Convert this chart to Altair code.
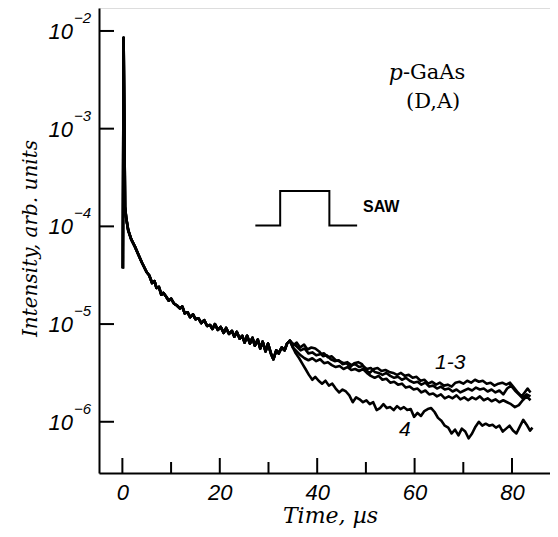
import altair as alt
import pandas as pd

# ---------------- data ----------------
# common early part (all four curves coincide), time in µs, log10(intensity)
prefix_t = [0.1, 0.25, 0.55, 0.8, 1.2, 1.8, 2.6, 3.3, 4.0, 5.0, 5.5, 6.1, 6.6, 7.0, 7.5, 8.0,
            8.4, 9.0, 9.5, 10.0, 10.6, 11.2, 11.8, 12.3, 12.8, 13.4, 13.9, 14.5, 15.0, 15.6,
            16.2, 16.8, 17.4, 18.0, 18.5, 19.0, 19.6, 20.2, 20.8, 21.3, 21.9, 22.5, 23.0, 23.5,
            24.1, 24.6, 25.1, 25.6, 26.2, 26.7, 27.2, 27.8, 28.3, 28.8, 29.4, 29.9, 30.5, 31.0,
            31.6, 32.1, 32.7, 33.3, 33.8, 34.4]
prefix_log = [-4.43, -2.07, -3.80, -3.92, -4.04, -4.13, -4.21, -4.29, -4.37, -4.47, -4.50, -4.58,
              -4.56, -4.63, -4.62, -4.70, -4.68, -4.72, -4.76, -4.74, -4.79, -4.81, -4.84, -4.82,
              -4.89, -4.88, -4.93, -4.90, -4.95, -4.94, -4.99, -4.96, -5.02, -5.01, -5.05, -5.00,
              -5.06, -5.03, -5.09, -5.04, -5.10, -5.07, -5.13, -5.08, -5.15, -5.12, -5.19, -5.12,
              -5.20, -5.14, -5.22, -5.16, -5.25, -5.18, -5.28, -5.20, -5.30, -5.36, -5.27, -5.30,
              -5.24, -5.27, -5.20, -5.17]

c1_t = [35.0, 35.8, 36.5, 37.3, 38.0, 38.8, 39.6, 40.4, 41.2, 42.0, 42.8, 43.6, 44.4, 45.2, 46.0,
        46.8, 47.6, 48.4, 49.2, 50.0, 50.8, 51.6, 52.4, 53.2, 54.0, 54.8, 55.6, 56.4, 57.2, 58.0,
        58.8, 59.6, 60.4, 61.2, 62.0, 62.8, 63.6, 64.4, 65.2, 66.0, 66.8, 67.6, 68.4, 69.2, 70.0,
        70.8, 71.6, 72.4, 73.2, 74.0, 74.8, 75.6, 76.4, 77.2, 78.0, 78.8, 79.6, 80.4, 81.2, 82.0,
        82.6, 83.2, 83.8]
c1_log = [-5.22, -5.19, -5.24, -5.21, -5.26, -5.24, -5.25, -5.28, -5.33, -5.32, -5.36, -5.38,
          -5.37, -5.41, -5.40, -5.44, -5.40, -5.39, -5.41, -5.47, -5.50, -5.46, -5.45, -5.48,
          -5.47, -5.49, -5.50, -5.52, -5.50, -5.53, -5.52, -5.55, -5.54, -5.58, -5.57, -5.61,
          -5.59, -5.62, -5.60, -5.63, -5.62, -5.64, -5.60, -5.59, -5.61, -5.58, -5.60, -5.57,
          -5.59, -5.58, -5.61, -5.60, -5.63, -5.61, -5.60, -5.62, -5.60, -5.65, -5.70, -5.74,
          -5.70, -5.66, -5.70]

c2_t = [35.0, 35.8, 36.6, 37.4, 38.2, 39.0, 39.8, 40.6, 41.4, 42.2, 43.0, 43.8, 44.6, 45.4, 46.2,
        47.0, 47.8, 48.6, 49.4, 50.2, 51.0, 51.8, 52.6, 53.4, 54.2, 55.0, 55.8, 56.6, 57.4, 58.2,
        59.0, 59.8, 60.6, 61.4, 62.2, 63.0, 63.8, 64.6, 65.4, 66.2, 67.0, 67.8, 68.6, 69.4, 70.2,
        71.0, 71.8, 72.6, 73.4, 74.2, 75.0, 75.8, 76.6, 77.4, 78.2, 79.0, 79.8, 80.6, 81.4, 82.2,
        83.0, 83.8]
c2_log = [-5.24, -5.28, -5.32, -5.35, -5.37, -5.35, -5.38, -5.36, -5.40, -5.39, -5.42, -5.44,
          -5.43, -5.46, -5.44, -5.47, -5.46, -5.48, -5.46, -5.50, -5.53, -5.55, -5.53, -5.57,
          -5.56, -5.60, -5.59, -5.62, -5.61, -5.65, -5.64, -5.67, -5.66, -5.70, -5.68, -5.72,
          -5.71, -5.74, -5.72, -5.76, -5.74, -5.76, -5.73, -5.77, -5.75, -5.78, -5.75, -5.77,
          -5.74, -5.78, -5.76, -5.79, -5.77, -5.80, -5.78, -5.80, -5.82, -5.85, -5.83, -5.78,
          -5.74, -5.78]

c3_t = [35.0, 35.8, 36.6, 37.4, 38.2, 39.0, 39.8, 40.6, 41.4, 42.2, 43.0, 43.8, 44.6, 45.4, 46.2,
        47.0, 47.8, 48.6, 49.4, 50.2, 51.0, 51.8, 52.6, 53.4, 54.2, 55.0, 55.8, 56.6, 57.4, 58.2,
        59.0, 59.8, 60.6, 61.4, 62.2, 63.0, 63.8, 64.6, 65.4, 66.2, 67.0, 67.8, 68.6, 69.4, 70.2,
        71.0, 71.8, 72.6, 73.4, 74.2, 75.0, 75.8, 76.6, 77.4, 78.2, 79.0, 79.8, 80.6, 81.4, 82.2,
        83.0, 83.8]
c3_log = [-5.20, -5.23, -5.27, -5.25, -5.30, -5.29, -5.32, -5.31, -5.30, -5.34, -5.33, -5.37,
          -5.38, -5.40, -5.39, -5.42, -5.41, -5.44, -5.43, -5.46, -5.45, -5.49, -5.50, -5.52,
          -5.50, -5.53, -5.55, -5.54, -5.57, -5.55, -5.58, -5.60, -5.59, -5.62, -5.60, -5.64,
          -5.63, -5.66, -5.64, -5.67, -5.66, -5.69, -5.67, -5.70, -5.68, -5.66, -5.68, -5.65,
          -5.67, -5.66, -5.69, -5.67, -5.70, -5.68, -5.72, -5.66, -5.63, -5.68, -5.72, -5.76,
          -5.72, -5.74]

c4_t = [35.0, 35.6, 36.3, 37.0, 37.6, 38.3, 39.0, 39.6, 40.3, 41.0, 41.7, 42.4, 43.1, 43.8, 44.5,
        45.2, 45.9, 46.6, 47.3, 48.0, 48.7, 49.4, 50.1, 50.8, 51.5, 52.2, 52.9, 53.6, 54.3, 55.0,
        55.7, 56.4, 57.1, 57.8, 58.5, 59.2, 59.9, 60.6, 61.3, 62.0, 62.7, 63.4, 64.1, 64.8, 65.5,
        66.2, 66.9, 67.6, 68.3, 69.0, 69.7, 70.4, 71.1, 71.8, 72.5, 73.2, 73.9, 74.6, 75.3, 76.0,
        76.7, 77.4, 78.1, 78.8, 79.5, 80.2, 80.9, 81.6, 82.3, 83.0, 83.7, 84.2]
c4_log = [-5.24, -5.30, -5.35, -5.41, -5.46, -5.52, -5.57, -5.54, -5.58, -5.61, -5.58, -5.63,
          -5.61, -5.66, -5.70, -5.67, -5.69, -5.73, -5.80, -5.75, -5.77, -5.80, -5.78, -5.82,
          -5.80, -5.88, -5.86, -5.82, -5.86, -5.85, -5.88, -5.84, -5.87, -5.85, -5.88, -5.87,
          -5.95, -5.91, -5.94, -5.89, -5.87, -5.86, -5.90, -5.96, -5.99, -6.04, -6.06, -6.12,
          -6.08, -6.14, -6.07, -6.10, -6.17, -6.12, -6.05, -6.00, -6.04, -6.02, -6.04, -6.03,
          -6.06, -6.04, -6.10, -6.07, -6.04, -6.09, -6.12, -6.05, -5.98, -6.03, -6.09, -6.06]

# SAW pulse schematic (time µs, intensity level)
saw_t = [27.3, 32.4, 32.4, 42.5, 42.5, 48.2]
saw_v = [1.02e-4, 1.02e-4, 2.3e-4, 2.3e-4, 1.02e-4, 1.02e-4]

x_major = [0, 20, 40, 60, 80]
x_minor = [10, 30, 50, 70]
y_decades = [1e-2, 1e-3, 1e-4, 1e-5, 1e-6]
y_exponents = ["\u22122", "\u22123", "\u22124", "\u22125", "\u22126"]

# ---------------- build tables ----------------
rows = []
for name, tt, ll in [("1", c1_t, c1_log), ("2", c2_t, c2_log), ("3", c3_t, c3_log), ("4", c4_t, c4_log)]:
    full_t = prefix_t + tt
    full_l = prefix_log + ll
    for i, (a, b) in enumerate(zip(full_t, full_l)):
        rows.append({"curve": name, "i": i, "t": a, "I": 10 ** b})
df = pd.DataFrame(rows)

saw_df = pd.DataFrame({"t": saw_t, "I": saw_v, "i": list(range(len(saw_t)))})
ytick_df = pd.DataFrame({"v": y_decades, "e": y_exponents})
xmaj_df = pd.DataFrame({"t": x_major})
xmin_df = pd.DataFrame({"t": x_minor})

W, H = 451, 465
xs = alt.Scale(domain=[-4.8, 87.8], nice=False, zero=False)
ys = alt.Scale(type="log", domain=[2.99e-7, 1.718e-2], nice=False)

lines = alt.Chart(df).mark_line(color="black", strokeWidth=2.6, strokeJoin="round").encode(
    x=alt.X("t:Q", scale=xs,
            axis=alt.Axis(title="Time, \u00b5s", values=x_major, ticks=False, grid=False,
                          labelFont="Liberation Sans", labelFontStyle="italic", labelFontSize=22,
                          labelColor="black", labelPadding=9, labelBaseline="top",
                          domainColor="black", domainWidth=2,
                          titleFont="DejaVu Serif", titleFontStyle="italic", titleFontWeight="normal",
                          titleFontSize=22, titleColor="black", titleX=231, titleY=49,
                          titleBaseline="alphabetic", titleAlign="center")),
    y=alt.Y("I:Q", scale=ys,
            axis=alt.Axis(title="Intensity, arb. units", labels=False, ticks=False, grid=False,
                          domainColor="black", domainWidth=2,
                          titleFont="DejaVu Serif", titleFontStyle="italic", titleFontWeight="normal",
                          titleFontSize=20, titleColor="black", titleX=-69, titleY=230,
                          titleAngle=270, titleBaseline="middle", titleAlign="center")),
    detail="curve:N",
    order="i:Q",
)

saw = alt.Chart(saw_df).mark_line(color="black", strokeWidth=2).encode(
    x=alt.X("t:Q", scale=xs), y=alt.Y("I:Q", scale=ys), order="i:Q")

ytick_rules = alt.Chart(ytick_df).mark_rule(color="black", strokeWidth=2).encode(
    x=alt.value(0), x2=alt.value(15), y=alt.Y("v:Q", scale=ys))

ylab10 = alt.Chart(ytick_df).mark_text(text="10", align="right", baseline="middle", dy=1,
                                       font="Liberation Sans", fontStyle="italic", fontSize=22,
                                       color="black").encode(
    x=alt.value(-26), y=alt.Y("v:Q", scale=ys))
ylabexp = alt.Chart(ytick_df).mark_text(align="left", baseline="middle", dy=-13,
                                        font="Liberation Sans", fontStyle="italic", fontSize=15,
                                        color="black").encode(
    x=alt.value(-25), y=alt.Y("v:Q", scale=ys), text="e:N")

xmaj_rules = alt.Chart(xmaj_df).mark_rule(color="black", strokeWidth=2).encode(
    x=alt.X("t:Q", scale=xs), y=alt.value(H), y2=alt.value(H - 15))
xmin_rules = alt.Chart(xmin_df).mark_rule(color="black", strokeWidth=2).encode(
    x=alt.X("t:Q", scale=xs), y=alt.value(H), y2=alt.value(H - 11))

ann_df = pd.DataFrame({
    "t": [67.3, 58.0],
    "I": [10 ** -5.40, 10 ** -6.08],
    "txt": ["1-3", "4"],
})
ann = alt.Chart(ann_df).mark_text(font="Liberation Sans", fontStyle="italic", fontSize=21,
                                  color="black", baseline="middle").encode(
    x=alt.X("t:Q", scale=xs), y=alt.Y("I:Q", scale=ys), text="txt:N")

title_p = alt.Chart(pd.DataFrame({"t": [57.6], "I": [10 ** -2.43]})).mark_text(
    text="p", align="right", baseline="middle", font="DejaVu Serif", fontStyle="italic",
    fontSize=22, color="black").encode(x=alt.X("t:Q", scale=xs), y=alt.Y("I:Q", scale=ys))
title_rest = alt.Chart(pd.DataFrame({"t": [57.6], "I": [10 ** -2.43]})).mark_text(
    text="-GaAs", align="left", baseline="middle", font="DejaVu Serif",
    fontSize=21, color="black").encode(x=alt.X("t:Q", scale=xs), y=alt.Y("I:Q", scale=ys))
title_da = alt.Chart(pd.DataFrame({"t": [63.8], "I": [10 ** -2.73]})).mark_text(
    text="(D,A)", align="center", baseline="middle", font="DejaVu Serif",
    fontSize=21, color="black").encode(x=alt.X("t:Q", scale=xs), y=alt.Y("I:Q", scale=ys))
saw_lbl = alt.Chart(pd.DataFrame({"t": [49.4], "I": [10 ** -3.80]})).mark_text(
    text="SAW", align="left", baseline="middle", font="Liberation Sans", fontWeight="bold",
    fontSize=16, color="black").encode(x=alt.X("t:Q", scale=xs), y=alt.Y("I:Q", scale=ys))

chart = alt.layer(
    lines, saw, ytick_rules, ylab10, ylabexp, xmaj_rules, xmin_rules, ann,
    title_p, title_rest, title_da, saw_lbl
).properties(
    width=W, height=H,
    autosize=alt.AutoSizeParams(type="none"),
    padding={"left": 91, "top": 0, "right": 0, "bottom": 56},
).configure_view(stroke=None).configure(background="white")

chart.save("out.html", embed_options={"renderer": "svg", "actions": False})
